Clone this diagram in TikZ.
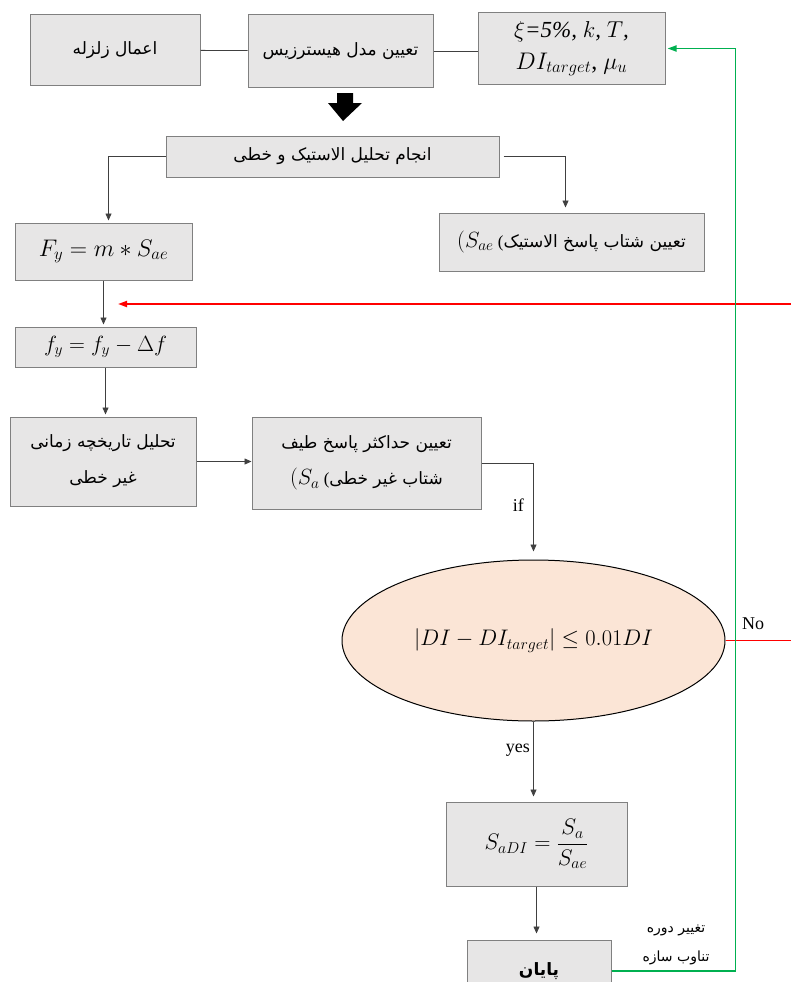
\documentclass[tikz,border=0pt]{standalone}
\usepackage{fix-cm}
\usepackage{amsmath}
\usepackage{fontspec}
\setmainfont{Liberation Serif}
\newfontfamily\fa[Script=Arabic]{DejaVu Sans}
\TeXXeTstate=1
\usetikzlibrary{arrows.meta,shapes.geometric}

\definecolor{boxfill}{HTML}{E7E6E6}
\definecolor{boxline}{HTML}{808080}
\definecolor{ovalfill}{HTML}{FBE5D6}
\definecolor{loopgreen}{HTML}{00B050}
\definecolor{loopred}{HTML}{FF0000}
\newcommand{\fatext}[1]{{\fa\beginR #1\endR}}

\begin{document}
\begin{tikzpicture}[x=1pt, y=-1pt, >={Triangle[length=7pt,width=6pt]},
  box/.style={draw=boxline, fill=boxfill, line width=1pt, align=center, font=\fontsize{17}{36}\selectfont},
  oval/.style={ellipse, draw=black, fill=ovalfill, line width=1pt, inner sep=0pt},
  link/.style={draw=black!75, line width=0.8pt},
  loopline/.style={line width=1.8pt, >={Triangle[length=9pt,width=6pt]}}]
\useasboundingbox (0,0) rectangle (790,982);
\node (A1) at (115,50) [box, minimum width=170, minimum height=70] {\fatext{اعمال زلزله}};
\node (A2) at (340.5,51) [box, minimum width=185, minimum height=72] {\fatext{تعیین مدل هیسترزیس}};
\node (A3) at (571.5,48.5) [box, minimum width=187, minimum height=71, font=\fontsize{23}{32}\selectfont] {{\itshape $\xi$=5\%, $k$, $T$,}\\{\fontsize{24}{32}\selectfont$DI_{target}$, $\mu_u$}};
\node (B1) at (332.5,156.5) [box, minimum width=333, minimum height=41] {\fatext{انجام تحلیل الاستیک و خطی}};
\node (B2) at (103.5,251.5) [box, minimum width=177, minimum height=57, font=\fontsize{24}{26}\selectfont] {$F_y = m * S_{ae}$};
\node (B3) at (571.5,242) [box, minimum width=265, minimum height=58] {{\fontsize{22}{26}\selectfont$(S_{ae}$} (\fatext{تعیین شتاب پاسخ الاستیک}};
\node (C1) at (105.5,347) [box, minimum width=181, minimum height=40, font=\fontsize{22}{24}\selectfont] {$f_y = f_y - \Delta f$};
\node (C2) at (103,461.5) [box, minimum width=186, minimum height=89] {\fatext{تحلیل تاریخچه زمانی}\\\fatext{غیر خطی}};
\node (C3) at (366.5,463) [box, minimum width=229, minimum height=92] {\fatext{تعیین حداکثر پاسخ طیف}\\{\fontsize{22}{26}\selectfont$(S_a$} (\fatext{شتاب غیر خطی}};
\node (E1) at (533.5,640.5) [oval, minimum width=383, minimum height=161, font=\fontsize{22.5}{26}\selectfont] {$|DI - DI_{target}| \leq 0.01DI$};
\node (D1) at (536.5,844) [box, minimum width=181, minimum height=84, font=\fontsize{22.5}{26}\selectfont] {$S_{aDI} = \dfrac{S_a}{S_{ae}}$};
\node (D2) at (539,971) [box, minimum width=144, minimum height=62] {{\bfseries\fatext{پایان}}};

\draw [link] (A1) -- (A2);
\draw [link] (A2.east) -- (A2.east -| A3.west);
% block arrow under the top row
\fill (337,93) -- (353,93) -- (353,103) -- (362,103) -- (343,121) -- (328,103) -- (337,103) -- cycle;
\draw [link, ->, shorten >=2pt] (B1.west) -| ([xshift=5]B2.north);
\draw [link, ->, shorten <=4pt, shorten >=5pt] (B1.east) -| ([xshift=-6]B3.north);
\draw [link, ->, shorten >=2pt] (B2.south) -- (B2.south |- C1.north);
\draw [link, ->, shorten >=2pt] (C1.south) -- (C1.south |- C2.north);
\draw [link, ->] (C2.east) -- (C2.east -| C3.west);
\draw [link, ->, shorten >=8pt] (C3.east) -| (E1.north) node[pos=0.72, left=6pt, font=\fontsize{18}{20}\selectfont] {if};
\draw [link, ->, shorten >=5pt] (E1.south) -- (E1.south |- D1.north) node[pos=0.36, left, font=\fontsize{18}{20}\selectfont] {yes};
\draw [link, ->, shorten >=6pt] (D1.south) -- (D1.south |- D2.north);

% loops back
\coordinate (R1) at (118,304);
\draw [loopline, color=loopred, ->] (E1.east) -- ++(70,0) |- (R1);
\draw [loopline, color=loopgreen, ->, shorten >=2pt] (D2.east) -- ++(124,0) |- (A3.east);
\node (N1) at (753,624) [font=\fontsize{18}{20}\selectfont] {No};
\node (L1) at (676,945) [align=center, font=\fontsize{14}{29}\selectfont] {\fatext{تغییر دوره}\\\fatext{تناوب سازه}};
\end{tikzpicture}
\end{document}
